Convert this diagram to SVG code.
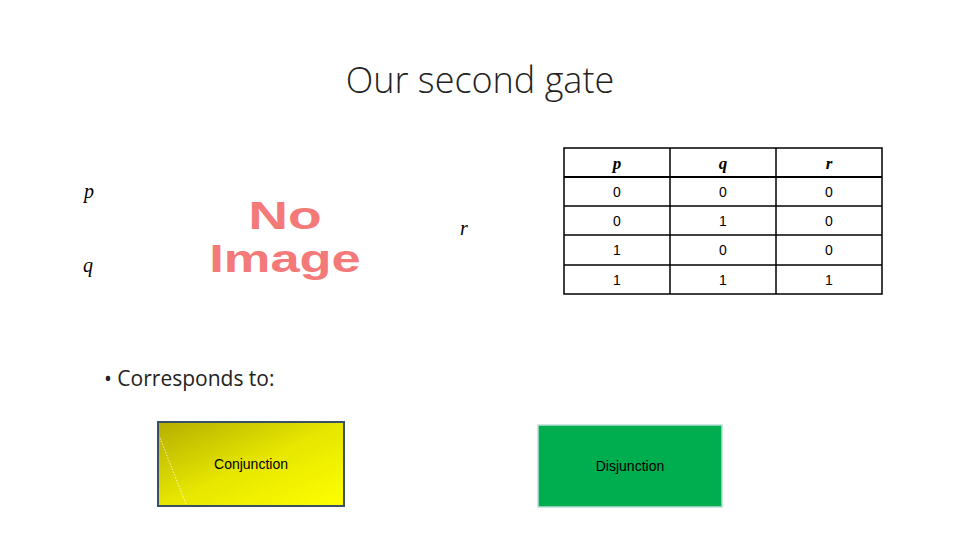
<svg xmlns="http://www.w3.org/2000/svg" width="960" height="540" viewBox="0 0 960 540">
<style>
.t{font-family:"Open Sans","Liberation Sans",sans-serif}
.m{font-family:"Liberation Serif",serif;font-style:italic;font-size:20px}
.c{font-family:"Liberation Sans",sans-serif;font-size:14px;text-anchor:middle}
.h{font-family:"Liberation Serif",serif;font-style:italic;font-weight:bold;font-size:17px;text-anchor:middle}
.ni{font-family:"Liberation Sans",sans-serif;font-weight:bold;fill:#f47a7a;text-anchor:middle}
</style>
<defs>
<linearGradient id="y" x1="0" y1="0" x2="1" y2="1">
<stop offset="0" stop-color="#b5ae00"/><stop offset="0.5" stop-color="#e6e600"/><stop offset="1" stop-color="#ffff00"/>
</linearGradient>
</defs>
<rect width="960" height="540" fill="#fff"/>
<text x="480" y="93" class="t" font-size="36" font-weight="300" text-anchor="middle" fill="#222">Our second gate</text>
<g id="inputs">
<text x="84" y="198" class="m">p</text>
<text x="83" y="272" class="m">q</text>
<text x="460" y="235" class="m">r</text>
</g>
<g id="noimage">
<text x="285" y="229" class="ni" font-size="38" transform="translate(285 0) scale(1.45 1) translate(-285 0)">No</text>
<text x="285" y="272" class="ni" font-size="38" transform="translate(285 0) scale(1.38 1) translate(-285 0)">Image</text>
</g>
<g id="table" stroke="#000" stroke-width="1.5" fill="none">
<rect x="564" y="148" width="318" height="146"/>
<line x1="564" y1="177" x2="882" y2="177" stroke-width="2"/>
<line x1="564" y1="206" x2="882" y2="206"/>
<line x1="564" y1="235" x2="882" y2="235"/>
<line x1="564" y1="265" x2="882" y2="265"/>
<line x1="670" y1="148" x2="670" y2="294"/>
<line x1="776" y1="148" x2="776" y2="294"/>
</g>
<g id="tabletext">
<text x="617" y="169" class="h">p</text><text x="723" y="169" class="h">q</text><text x="829" y="169" class="h">r</text>
<text x="617" y="197" class="c">0</text><text x="723" y="197" class="c">0</text><text x="829" y="197" class="c">0</text>
<text x="617" y="226" class="c">0</text><text x="723" y="226" class="c">1</text><text x="829" y="226" class="c">0</text>
<text x="617" y="255" class="c">1</text><text x="723" y="255" class="c">0</text><text x="829" y="255" class="c">0</text>
<text x="617" y="285" class="c">1</text><text x="723" y="285" class="c">1</text><text x="829" y="285" class="c">1</text>
</g>
<text x="104" y="386" class="t" font-size="21" fill="#222">• Corresponds to:</text>
<g id="conjunction">
<rect x="158" y="422" width="186" height="84" fill="url(#y)" stroke="#3a5066" stroke-width="2"/>
<line x1="160" y1="438" x2="186" y2="504" stroke="#fff" stroke-width="0.8" stroke-dasharray="1.5 1.5"/>
<text x="251" y="469" class="c" fill="#000">Conjunction</text>
</g>
<g id="disjunction">
<rect x="538" y="425" width="184" height="82" fill="#00ad4f" stroke="#b8e0d6" stroke-width="1.5"/>
<text x="630" y="471" class="c" fill="#000">Disjunction</text>
</g>
</svg>
